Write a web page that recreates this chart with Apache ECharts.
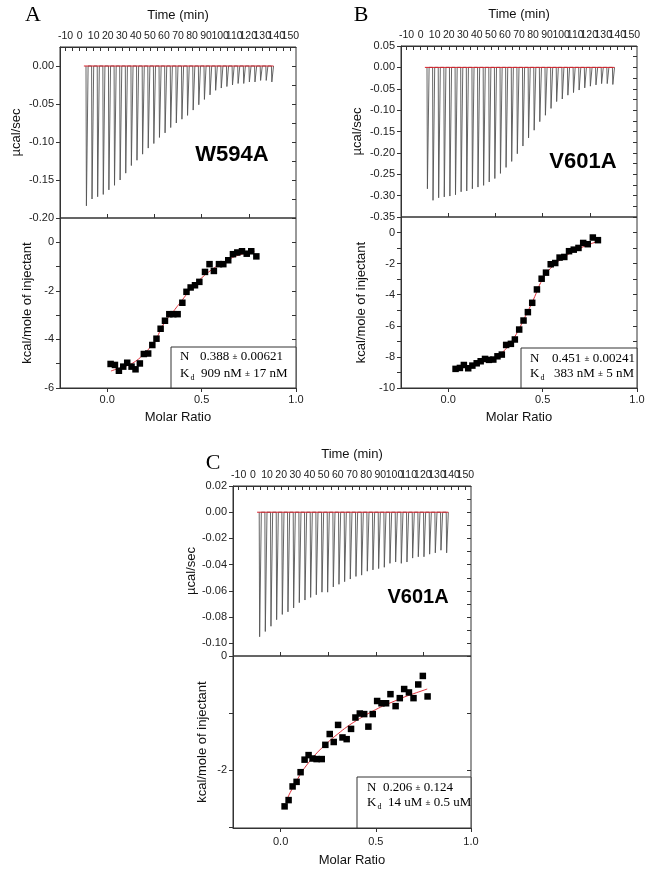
<!DOCTYPE html>
<html><head><meta charset="utf-8">
<script src="https://cdn.jsdelivr.net/npm/echarts@6/dist/echarts.min.js"></script>
<style>html,body{margin:0;padding:0;background:#fff}#c{width:651px;height:874px}</style>
</head><body><div id="c"></div>
<script>
// ---------- data ----------
const injTimes = [4.5,8.5,12.5,16.5,20.5,24.5,28.5,32.5,36.5,40.5,44.5,48.5,52.5,56.5,60.5,64.5,68.5,72.5,76.5,80.5,84.5,88.5,92.5,96.5,100.5,104.5,108.5,112.5,116.5,120.5,124.5,128.5,132.5,136.5];
const peaksA = [-0.184,-0.175,-0.172,-0.169,-0.163,-0.157,-0.150,-0.141,-0.131,-0.124,-0.116,-0.108,-0.102,-0.094,-0.088,-0.081,-0.075,-0.070,-0.065,-0.058,-0.051,-0.044,-0.038,-0.032,-0.029,-0.027,-0.025,-0.023,-0.023,-0.021,-0.021,-0.019,-0.019,-0.021];
const peaksB = [-0.284,-0.311,-0.305,-0.303,-0.301,-0.298,-0.291,-0.289,-0.284,-0.280,-0.276,-0.268,-0.260,-0.248,-0.234,-0.220,-0.202,-0.184,-0.165,-0.147,-0.127,-0.112,-0.096,-0.080,-0.074,-0.065,-0.059,-0.053,-0.048,-0.044,-0.041,-0.038,-0.038,-0.040];
const peaksC = [-0.095,-0.091,-0.087,-0.082,-0.078,-0.076,-0.073,-0.069,-0.067,-0.065,-0.063,-0.061,-0.061,-0.057,-0.055,-0.053,-0.051,-0.049,-0.048,-0.045,-0.044,-0.043,-0.042,-0.039,-0.038,-0.039,-0.038,-0.035,-0.034,-0.034,-0.032,-0.031,-0.029,-0.031];

const ratioA = [0.018,0.041,0.062,0.085,0.106,0.129,0.150,0.173,0.194,0.217,0.239,0.261,0.283,0.306,0.329,0.350,0.373,0.398,0.420,0.442,0.465,0.488,0.518,0.542,0.565,0.592,0.615,0.641,0.666,0.689,0.714,0.739,0.763,0.790];
const heatA  = [-5.01,-5.05,-5.29,-5.12,-4.96,-5.12,-5.23,-4.99,-4.60,-4.58,-4.23,-3.97,-3.56,-3.23,-2.96,-2.96,-2.96,-2.49,-2.04,-1.86,-1.77,-1.63,-1.22,-0.90,-1.18,-0.90,-0.90,-0.74,-0.49,-0.42,-0.37,-0.47,-0.37,-0.58];
const fitRatioA = [0.02,0.05,0.10,0.15,0.20,0.25,0.30,0.35,0.40,0.45,0.50,0.55,0.60,0.65,0.70,0.75,0.78];
const fitHeatA  = [-5.30,-5.22,-5.10,-4.90,-4.55,-4.10,-3.35,-2.85,-2.35,-1.85,-1.47,-1.15,-0.90,-0.68,-0.52,-0.42,-0.37];

const ratioB = [0.039,0.062,0.083,0.106,0.128,0.151,0.172,0.195,0.216,0.239,0.261,0.284,0.307,0.332,0.353,0.376,0.399,0.422,0.445,0.470,0.495,0.518,0.543,0.567,0.590,0.615,0.640,0.665,0.690,0.715,0.739,0.766,0.793];
const heatB  = [-8.77,-8.71,-8.52,-8.73,-8.56,-8.41,-8.28,-8.13,-8.19,-8.17,-7.96,-7.85,-7.23,-7.16,-6.88,-6.24,-5.66,-5.12,-4.52,-3.66,-2.97,-2.58,-2.04,-1.96,-1.61,-1.57,-1.20,-1.10,-0.99,-0.67,-0.75,-0.32,-0.49];
const fitRatioB = [0.04,0.10,0.15,0.20,0.25,0.30,0.35,0.40,0.45,0.50,0.55,0.60,0.65,0.70,0.75,0.79];
const fitHeatB  = [-8.82,-8.62,-8.45,-8.27,-8.02,-7.55,-6.75,-5.60,-4.35,-3.00,-2.20,-1.70,-1.30,-1.00,-0.75,-0.58];

const ratioC = [0.021,0.042,0.063,0.084,0.105,0.126,0.147,0.168,0.189,0.216,0.235,0.258,0.279,0.302,0.325,0.347,0.370,0.393,0.416,0.439,0.461,0.484,0.507,0.530,0.554,0.577,0.604,0.626,0.649,0.674,0.698,0.723,0.747,0.772];
const heatC  = [-2.64,-2.53,-2.29,-2.21,-2.04,-1.82,-1.74,-1.80,-1.81,-1.81,-1.56,-1.37,-1.51,-1.21,-1.43,-1.46,-1.28,-1.08,-1.01,-1.02,-1.24,-1.02,-0.79,-0.83,-0.83,-0.67,-0.88,-0.74,-0.58,-0.64,-0.74,-0.50,-0.35,-0.71];
const fitRatioC = [0.03,0.05,0.10,0.15,0.20,0.25,0.30,0.35,0.40,0.45,0.50,0.55,0.60,0.65,0.70,0.77];
const fitHeatC  = [-2.55,-2.40,-2.10,-1.86,-1.67,-1.51,-1.37,-1.24,-1.13,-1.03,-0.94,-0.86,-0.79,-0.72,-0.66,-0.58];

// time tick labels split in two interleaved sets so none is dropped for overlap
const timeLabelsOdd  = [-10,10,30,50,70,90,110,130,150];
const timeLabelsEven = [0,20,40,60,80,100,120,140];
const timeTicks = [-10,-5,0,5,10,15,20,25,30,35,40,45,50,55,60,65,70,75,80,85,90,95,100,105,110,115,120,125,130,135,140,145,150];
const molarLabels = [0, 0.5, 1.0];
const molarInnerTicks = [0, 0.25, 0.5, 0.75];

const rawLabelsA = [0.00,-0.05,-0.10,-0.15,-0.20];
const rawTicksA  = [0.00,-0.025,-0.05,-0.075,-0.10,-0.125,-0.15,-0.175,-0.20];
const rawLabelsB = [0.05,0.00,-0.05,-0.10,-0.15,-0.20,-0.25,-0.30,-0.35];
const rawTicksB  = [0.05,0.025,0.00,-0.025,-0.05,-0.075,-0.10,-0.125,-0.15,-0.175,-0.20,-0.225,-0.25,-0.275,-0.30,-0.325,-0.35];
const rawLabelsC = [0.02,0.00,-0.02,-0.04,-0.06,-0.08,-0.10];
const rawTicksC  = [0.02,0.01,0.00,-0.01,-0.02,-0.03,-0.04,-0.05,-0.06,-0.07,-0.08,-0.09,-0.10];
const heatLabelsA = [0,-2,-4,-6];
const heatTicksA  = [0,-1,-2,-3,-4,-5,-6];
const heatLabelsB = [0,-2,-4,-6,-8,-10];
const heatTicksB  = [0,-1,-2,-3,-4,-5,-6,-7,-8,-9,-10];
const heatLabelsC = [0,-2];
const heatTicksC  = [0,-1,-2,-3];

// ---------- chart ----------
const chart = echarts.init(document.getElementById('c'));
const SANS = 'Liberation Sans, Arial, sans-serif';
const SERIF = 'Liberation Serif, Times New Roman, serif';
const AX = '#333';

const panels = [
  { g1:{left:60,top:47,width:236,height:171}, g2:{left:60,top:218,width:236,height:170},
    r:[-0.2,0.025], rl:rawLabelsA, rt:rawTicksA, h:[-6,1], hl:heatLabelsA, ht:heatTicksA,
    peaks:peaksA, ratio:ratioA, heat:heatA, fx:fitRatioA, fy:fitHeatA,
    gap1:37, gap2:26, xname2Gap:23, xlabMargin:6 },
  { g1:{left:401,top:46,width:236,height:171}, g2:{left:401,top:217,width:236,height:171},
    r:[-0.35,0.05], rl:rawLabelsB, rt:rawTicksB, h:[-10,1], hl:heatLabelsB, ht:heatTicksB,
    peaks:peaksB, ratio:ratioB, heat:heatB, fx:fitRatioB, fy:fitHeatB,
    gap1:37, gap2:33, xname2Gap:23, xlabMargin:6 },
  { g1:{left:233,top:486,width:238,height:170}, g2:{left:233,top:656,width:238,height:172},
    r:[-0.1097,0.02], rl:rawLabelsC, rt:rawTicksC, h:[-3.02,0], hl:heatLabelsC, ht:heatTicksC,
    peaks:peaksC, ratio:ratioC, heat:heatC, fx:fitRatioC, fy:fitHeatC,
    gap1:27, gap2:24, xname2Gap:26, xlabMargin:8 }
];

const grid = [], xAxis = [], yAxis = [], series = [];
panels.forEach((p, k) => {
  const gi1 = grid.length;
  grid.push(Object.assign({show:true, borderColor:AX, borderWidth:1, containLabel:false}, p.g1));
  const gi2 = grid.length;
  grid.push(Object.assign({show:true, borderColor:AX, borderWidth:1, containLabel:false}, p.g2));

  const timeLabelStyle = {fontSize:10.5, color:'#222', fontFamily:SANS, margin:5, hideOverlap:false, showMinLabel:true, showMaxLabel:true};
  // time axis (top)
  const xTime = xAxis.length;
  xAxis.push({ gridIndex:gi1, type:'value', position:'top', min:-14, max:154,
    axisLine:{show:true, onZero:false, lineStyle:{color:AX}},
    axisTick:{show:true, inside:true, length:4, customValues:timeTicks, lineStyle:{color:AX}},
    axisLabel:Object.assign({customValues:timeLabelsOdd}, timeLabelStyle),
    splitLine:{show:false},
    name:'Time (min)', nameLocation:'middle', nameGap:25,
    nameTextStyle:{fontSize:13, color:'#111', fontFamily:SANS} });
  // overlay axis with the other half of the time labels
  xAxis.push({ gridIndex:gi1, type:'value', position:'top', min:-14, max:154,
    axisLine:{show:false, onZero:false}, axisTick:{show:false},
    axisLabel:Object.assign({customValues:timeLabelsEven}, timeLabelStyle),
    splitLine:{show:false} });
  // bottom edge ticks of top panel
  xAxis.push({ gridIndex:gi1, type:'value', position:'bottom', min:-0.25, max:1,
    axisLine:{show:false, onZero:false}, axisTick:{show:true, inside:true, length:4, customValues:molarInnerTicks, lineStyle:{color:AX}},
    axisLabel:{show:false}, splitLine:{show:false} });
  // molar ratio axis
  const xMol = xAxis.length;
  xAxis.push({ gridIndex:gi2, type:'value', position:'bottom', min:-0.25, max:1,
    axisLine:{show:true, onZero:false, lineStyle:{color:AX}},
    axisTick:{show:true, inside:false, length:4, customValues:molarLabels, lineStyle:{color:AX}},
    axisLabel:{customValues:molarLabels, formatter:v=>v.toFixed(1), fontSize:11, color:'#222', fontFamily:SANS, margin:p.xlabMargin},
    splitLine:{show:false},
    name:'Molar Ratio', nameLocation:'middle', nameGap:p.xname2Gap,
    nameTextStyle:{fontSize:13, color:'#111', fontFamily:SANS} });

  // raw y axes
  const yRaw = yAxis.length;
  yAxis.push({ gridIndex:gi1, type:'value', position:'left', min:p.r[0], max:p.r[1],
    axisLine:{show:true, onZero:false, lineStyle:{color:AX}},
    axisTick:{show:true, inside:false, length:4, customValues:p.rl, lineStyle:{color:AX}},
    axisLabel:{customValues:p.rl, formatter:v=>v.toFixed(2), fontSize:11, color:'#222', fontFamily:SANS, margin:6},
    splitLine:{show:false},
    name:'µcal/sec', nameLocation:'middle', nameGap:p.gap1,
    nameTextStyle:{fontSize:13, color:'#111', fontFamily:SANS} });
  yAxis.push({ gridIndex:gi1, type:'value', position:'right', min:p.r[0], max:p.r[1],
    axisLine:{show:false, onZero:false}, axisTick:{show:true, inside:true, length:4, customValues:p.rt, lineStyle:{color:AX}},
    axisLabel:{show:false}, splitLine:{show:false} });
  // heat y axes
  const yHeat = yAxis.length;
  yAxis.push({ gridIndex:gi2, type:'value', position:'left', min:p.h[0], max:p.h[1],
    axisLine:{show:true, onZero:false, lineStyle:{color:AX}},
    axisTick:{show:true, inside:false, length:4, customValues:p.ht, lineStyle:{color:AX}},
    axisLabel:{customValues:p.hl, formatter:v=>String(Math.round(v)), fontSize:11, color:'#222', fontFamily:SANS, margin:6},
    splitLine:{show:false},
    name:'kcal/mole of injectant', nameLocation:'middle', nameGap:p.gap2,
    nameTextStyle:{fontSize:13, color:'#111', fontFamily:SANS} });
  yAxis.push({ gridIndex:gi2, type:'value', position:'right', min:p.h[0], max:p.h[1],
    axisLine:{show:false, onZero:false}, axisTick:{show:true, inside:true, length:4, customValues:p.ht, lineStyle:{color:AX}},
    axisLabel:{show:false}, splitLine:{show:false} });

  // thermogram spikes built from injection times and peak heights
  const raw = [];
  injTimes.forEach((t, i) => {
    raw.push([t, 0], [t + 0.3, p.peaks[i]], [t + 1.5, 0]);
  });
  series.push({ type:'line', xAxisIndex:xTime, yAxisIndex:yRaw, data:raw, showSymbol:false,
    lineStyle:{color:'#555', width:0.9}, animation:false, z:2 });
  series.push({ type:'line', xAxisIndex:xTime, yAxisIndex:yRaw,
    data:[[injTimes[0]-1.5, 0],[injTimes[injTimes.length-1]+1.5, 0]], showSymbol:false,
    lineStyle:{color:'#d8202a', width:1}, animation:false, z:3 });
  // fit line, then integrated heats on top
  series.push({ type:'line', xAxisIndex:xMol, yAxisIndex:yHeat,
    data:p.fx.map((x,i)=>[x,p.fy[i]]), smooth:true, showSymbol:false,
    lineStyle:{color:'#e0303a', width:1}, animation:false, z:3 });
  series.push({ type:'scatter', xAxisIndex:xMol, yAxisIndex:yHeat,
    data:p.ratio.map((x,i)=>[x,p.heat[i]]), symbol:'rect', symbolSize:6.5,
    itemStyle:{color:'#000', opacity:1}, animation:false, z:5 });
});

function txt(x, y, text, font, align, extra) {
  return Object.assign({ type:'text', x:x, y:y, z:20,
    style:{ text:text, font:font, fill:'#000', textAlign:align||'center', textVerticalAlign:'middle' } }, extra||{});
}
function statBox(x, y, w, h, nx, vx, y1, y2, nVal, kVal) {
  return [
    { type:'rect', shape:{x:x, y:y, width:w, height:h}, z:15,
      style:{fill:'#fff', stroke:AX, lineWidth:1} },
    { type:'text', x:nx, y:y1, z:20, style:{ text:'N', font:'13px '+SERIF, fill:'#000', textAlign:'left', textVerticalAlign:'middle'} },
    { type:'text', x:vx, y:y1, z:20, style:{ text:nVal, font:'13px '+SERIF, fill:'#000', textAlign:'left', textVerticalAlign:'middle',
        rich:{ s:{font:'9px '+SERIF, fill:'#000'} } } },
    { type:'text', x:nx, y:y2, z:20, style:{ text:'K{d|d}', font:'13px '+SERIF, fill:'#000', textAlign:'left', textVerticalAlign:'middle',
        rich:{ d:{font:'8px '+SERIF, fill:'#000', padding:[8,0,0,1]} } } },
    { type:'text', x:vx + (kVal.off||0), y:y2, z:20, style:{ text:kVal.t, font:'13px '+SERIF, fill:'#000', textAlign:'left', textVerticalAlign:'middle',
        rich:{ s:{font:'9px '+SERIF, fill:'#000'} } } }
  ];
}

const graphic = [
  txt(33, 15, 'A', '22px '+SERIF),
  txt(361, 15, 'B', '22px '+SERIF),
  txt(213, 463, 'C', '22px '+SERIF),
  txt(232, 155, 'W594A', 'bold 22px '+SANS),
  txt(583, 162, 'V601A', 'bold 22px '+SANS),
  txt(418, 597, 'V601A', 'bold 20px '+SANS),
  ...statBox(171, 347, 125, 41, 180, 200, 357, 374, '0.388 {s|±} 0.00621', {t:'909 nM {s|±} 17 nM', off:1}),
  ...statBox(521, 348, 116, 40, 530, 552, 359, 374, '0.451 {s|±} 0.00241', {t:'383 nM {s|±} 5 nM', off:2}),
  ...statBox(357, 777, 114, 51, 367, 383, 788, 803, '0.206 {s|±} 0.124', {t:'14 uM {s|±} 0.5 uM', off:5})
];

chart.setOption({ animation:false, backgroundColor:'#fff', grid, xAxis, yAxis, series, graphic });
</script></body></html>
